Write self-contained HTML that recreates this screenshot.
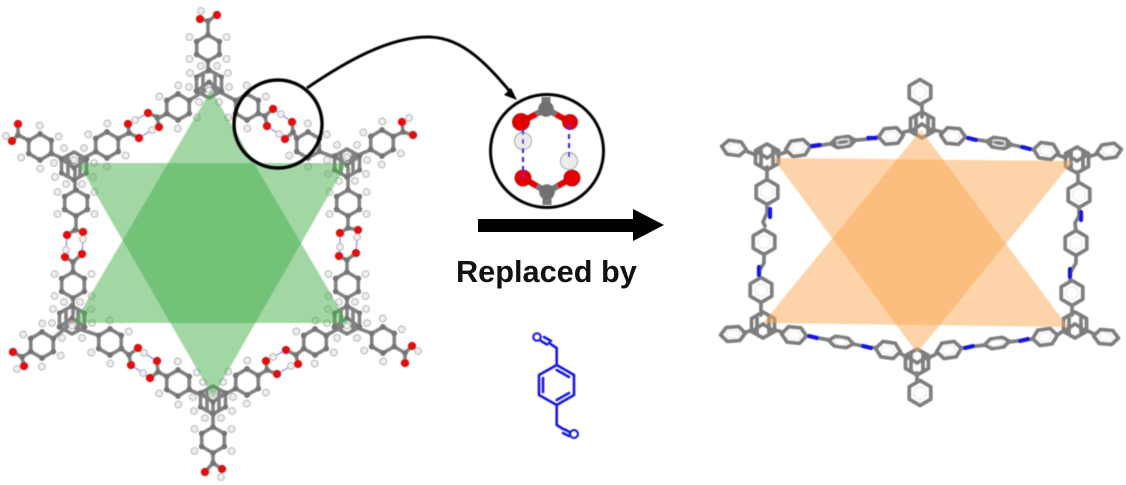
<!DOCTYPE html>
<html><head><meta charset="utf-8"><style>
html,body{margin:0;padding:0;background:#fff;width:1126px;height:485px;overflow:hidden}
svg{display:block}
.b{fill:none;stroke:#828282;stroke-width:3.6;stroke-linecap:round;stroke-linejoin:round}
.c{fill:#757575}
.h{fill:#eeeeee;stroke:#a0a0a0;stroke-width:.8}
.o{fill:#e60c0c;stroke:#b00808;stroke-width:.5}
.hb{fill:none;stroke:#8488ee;stroke-width:1.2}
.s{fill:none;stroke:#7e7e7e;stroke-width:3.7;stroke-linejoin:round;stroke-linecap:round}
.n{fill:none;stroke:#1212dc;stroke-width:4.2;stroke-linecap:round}
.ns{vector-effect:non-scaling-stroke}
.bl{fill:none;stroke:#1818e4;stroke-width:2.6;stroke-linecap:round;stroke-linejoin:round}
</style></head><body>
<svg width="1126" height="485" viewBox="0 0 1126 485" xmlns="http://www.w3.org/2000/svg">
<defs>
<filter id="bl" x="-5%" y="-5%" width="110%" height="110%"><feGaussianBlur stdDeviation="0.5"/></filter>
<g id="r">
<path class="b" d="M13,0L6.5,11.3L-6.5,11.3L-13,0L-6.5,-11.3L6.5,-11.3Z"/>
<circle class="c" cx="13" cy="0" r="2.9"/><circle class="c" cx="6.5" cy="11.3" r="2.9"/><circle class="c" cx="-6.5" cy="11.3" r="2.9"/><circle class="c" cx="-13" cy="0" r="2.9"/><circle class="c" cx="-6.5" cy="-11.3" r="2.9"/><circle class="c" cx="6.5" cy="-11.3" r="2.9"/>
<circle class="h" cx="11" cy="18.5" r="3.4"/><circle class="h" cx="-11" cy="18.5" r="3.4"/><circle class="h" cx="-11" cy="-18.5" r="3.4"/><circle class="h" cx="11" cy="-18.5" r="3.4"/>
</g>
<g id="nd">
<path class="b" d="M0,-14L12.5,-7L12.5,7L0,14L-12.5,7L-12.5,-7Z"/>
<path class="b" d="M0,-2L-12.5,7M0,-2L12.5,7M-6,-10V9M6,-10V9"/>
<circle class="c" cx="0" cy="-14" r="2.9"/><circle class="c" cx="-12.5" cy="7" r="2.9"/><circle class="c" cx="12.5" cy="7" r="2.9"/><circle class="c" cx="0" cy="-2" r="2.6"/><circle class="c" cx="-12.5" cy="-7" r="2.6"/><circle class="c" cx="12.5" cy="-7" r="2.6"/>
<circle class="h" cx="-8" cy="-18" r="3.4"/><circle class="h" cx="8" cy="-18" r="3.4"/><circle class="h" cx="-19" cy="-11" r="3.4"/><circle class="h" cx="19" cy="-11" r="3.4"/><circle class="h" cx="-20" cy="3" r="3.4"/><circle class="h" cx="20" cy="3" r="3.4"/><circle class="h" cx="-10" cy="18" r="3.4"/><circle class="h" cx="10" cy="18" r="3.4"/><circle class="h" cx="0" cy="6" r="3.2"/>
</g>
<g id="p">
<path class="s ns" d="M12.5,0L6.2,10.8L-6.2,10.8L-12.5,0L-6.2,-10.8L6.2,-10.8Z"/>
<circle cx="0" cy="0" r="6.3" fill="none" stroke="#e6e6e6" stroke-width="1.8" class="ns" stroke-dasharray="1.5 1"/>
</g>
<g id="q">
<path class="s" d="M0,-13L11.5,-6.5L11.5,6.5L0,13L-11.5,6.5L-11.5,-6.5ZM0,-1L-11.5,6.5M0,-1L11.5,6.5M-6,-9V9M6,-9V9"/>
</g>
</defs>

<g filter="url(#bl)">
<path class="b" d="M208,21V35M208,61V72M189,100.5L209,88M167,113.5L157,119M129,133L118,138.5M96,151.5L80,160M74,163L51,153.5M29,140.5L18,135M75,170V190M76,216V230M236,100.5L212,88M258,113.5L265,116M293,132L297,138.5M319,151.5L342,160M347,160L371,149.5M393,136.5L403,132M348,168V190M348,216V228M73,262V272M73,298V315M72,323L53,338.5M31,351.5L22,357M76,328L99,335.5M121,348.5L129,355M158,372L167,376.5M189,389.5L208,398M213,405V427M213,453V463M218,398L236,388.5M258,375.5L267,370M296,355L304,348.5M326,335.5L343,326M352,326L372,333.5M394,346.5L405,353M347,260V272M347,298V315"/>
<path class="b" d="M148,113L157,117L159,127M128,124L129,133L139,138M273,109L265,116L267,126M292,122L293,132L285,139M67,235L75,230L83,232M65,257L73,262L82,254M340,233L348,228L358,230M339,256L347,260L356,253M138,348L129,355L131,365M157,361L158,372L150,378M266,361L267,370L277,374M286,350L296,355L298,364M200,19L208,21L217,15M18,124L18,135L12,141M413,135L403,132L402,122M13,352L22,357L24,366M412,346L405,353L405,363M205,472L213,463L222,469"/>
<path class="hb" d="M128,124L135,120L148,113M139,138L152,130L159,127M273,109L281,114L292,122M267,126L279,134L285,139M67,235L66,250L65,257M83,232L83,241L82,254M340,233L340,247L339,256M358,230L357,240L356,253M138,348L144,353L157,361M131,365L143,373L150,378M266,361L273,357L286,350M277,374L291,366L298,364"/>
<use href="#r" transform="translate(208,48) rotate(90)"/>
<use href="#r" transform="translate(178,107) rotate(-30)"/>
<use href="#r" transform="translate(107,145) rotate(-30)"/>
<use href="#r" transform="translate(40,147) rotate(30)"/>
<use href="#r" transform="translate(76,203) rotate(90)"/>
<use href="#r" transform="translate(247,107) rotate(30)"/>
<use href="#r" transform="translate(308,145) rotate(30)"/>
<use href="#r" transform="translate(382,143) rotate(-30)"/>
<use href="#r" transform="translate(348,203) rotate(90)"/>
<use href="#r" transform="translate(73,285) rotate(90)"/>
<use href="#r" transform="translate(42,345) rotate(-30)"/>
<use href="#r" transform="translate(110,342) rotate(30)"/>
<use href="#r" transform="translate(178,383) rotate(30)"/>
<use href="#r" transform="translate(213,440) rotate(90)"/>
<use href="#r" transform="translate(247,382) rotate(-30)"/>
<use href="#r" transform="translate(315,342) rotate(-30)"/>
<use href="#r" transform="translate(383,340) rotate(30)"/>
<use href="#r" transform="translate(347,285) rotate(90)"/>
<use href="#nd" transform="translate(209,84)"/>
<use href="#nd" transform="translate(74,166) rotate(180)"/>
<use href="#nd" transform="translate(347,163) rotate(180)"/>
<use href="#nd" transform="translate(72,320)"/>
<use href="#nd" transform="translate(347,320)"/>
<use href="#nd" transform="translate(213,400) rotate(180)"/>
<g>
<circle class="c" cx="208" cy="21" r="2.9"/><circle class="c" cx="157" cy="117" r="2.9"/><circle class="c" cx="129" cy="133" r="2.9"/><circle class="c" cx="18" cy="135" r="2.9"/><circle class="c" cx="75" cy="230" r="2.9"/><circle class="c" cx="265" cy="116" r="2.9"/><circle class="c" cx="293" cy="132" r="2.9"/><circle class="c" cx="403" cy="132" r="2.9"/><circle class="c" cx="348" cy="228" r="2.9"/><circle class="c" cx="73" cy="262" r="2.9"/><circle class="c" cx="22" cy="357" r="2.9"/><circle class="c" cx="129" cy="355" r="2.9"/><circle class="c" cx="158" cy="372" r="2.9"/><circle class="c" cx="213" cy="463" r="2.9"/><circle class="c" cx="267" cy="370" r="2.9"/><circle class="c" cx="296" cy="355" r="2.9"/><circle class="c" cx="405" cy="353" r="2.9"/><circle class="c" cx="347" cy="260" r="2.9"/>
</g>
<g>
<circle class="h" cx="201" cy="11" r="3.4"/><circle class="h" cx="6" cy="136" r="3.4"/><circle class="h" cx="409" cy="118" r="3.4"/><circle class="h" cx="17" cy="369" r="3.4"/><circle class="h" cx="418" cy="351" r="3.4"/><circle class="h" cx="221" cy="477" r="3.4"/>
<circle class="h" cx="135" cy="120" r="3.4"/><circle class="h" cx="152" cy="130" r="3.4"/><circle class="h" cx="281" cy="114" r="3.4"/><circle class="h" cx="279" cy="134" r="3.4"/><circle class="h" cx="83" cy="239" r="3.4"/><circle class="h" cx="66" cy="250" r="3.4"/><circle class="h" cx="357" cy="237" r="3.4"/><circle class="h" cx="340" cy="247" r="3.4"/><circle class="h" cx="144" cy="353" r="3.4"/><circle class="h" cx="143" cy="373" r="3.4"/><circle class="h" cx="273" cy="357" r="3.4"/><circle class="h" cx="291" cy="366" r="3.4"/>
</g>
<g>
<circle class="o" cx="200" cy="19" r="3.9"/><circle class="o" cx="217" cy="15" r="3.9"/><circle class="o" cx="18" cy="124" r="3.9"/><circle class="o" cx="12" cy="141" r="3.9"/><circle class="o" cx="402" cy="122" r="3.9"/><circle class="o" cx="413" cy="135" r="3.9"/><circle class="o" cx="13" cy="352" r="3.9"/><circle class="o" cx="24" cy="366" r="3.9"/><circle class="o" cx="412" cy="346" r="3.9"/><circle class="o" cx="405" cy="363" r="3.9"/><circle class="o" cx="205" cy="472" r="3.9"/><circle class="o" cx="222" cy="469" r="3.9"/>
<circle class="o" cx="148" cy="113" r="3.9"/><circle class="o" cx="159" cy="127" r="3.9"/><circle class="o" cx="128" cy="124" r="3.9"/><circle class="o" cx="139" cy="138" r="3.9"/>
<circle class="o" cx="273" cy="109" r="3.9"/><circle class="o" cx="267" cy="126" r="3.9"/><circle class="o" cx="292" cy="122" r="3.9"/><circle class="o" cx="285" cy="139" r="3.9"/>
<circle class="o" cx="67" cy="235" r="3.9"/><circle class="o" cx="83" cy="232" r="3.9"/><circle class="o" cx="65" cy="257" r="3.9"/><circle class="o" cx="82" cy="254" r="3.9"/>
<circle class="o" cx="340" cy="233" r="3.9"/><circle class="o" cx="358" cy="230" r="3.9"/><circle class="o" cx="339" cy="256" r="3.9"/><circle class="o" cx="356" cy="253" r="3.9"/>
<circle class="o" cx="138" cy="348" r="3.9"/><circle class="o" cx="131" cy="365" r="3.9"/><circle class="o" cx="157" cy="361" r="3.9"/><circle class="o" cx="150" cy="378" r="3.9"/>
<circle class="o" cx="266" cy="361" r="3.9"/><circle class="o" cx="277" cy="374" r="3.9"/><circle class="o" cx="286" cy="350" r="3.9"/><circle class="o" cx="298" cy="364" r="3.9"/>
</g>
<polygon points="211,90 74,323 348,323" fill="#46b04b" fill-opacity=".5"/>
<polygon points="78,163 347,163 213,397" fill="#46b04b" fill-opacity=".5"/>
</g>

<g filter="url(#bl)">
<circle cx="278" cy="124" r="44" fill="none" stroke="#000" stroke-width="3.4"/>
<path d="M307,88C345,62 390,36 430,37C465,38 490,68 513,95" fill="none" stroke="#000" stroke-width="3"/>
<polygon points="517,100 504,95 511,88" fill="#000"/>
<path d="M546,97V109M547,192V205" stroke="#777" stroke-width="9" fill="none"/>
<path d="M521,122L546,109L570,122M523,178L547,192L572,178" stroke="#e30000" stroke-width="6" fill="none"/>
<path d="M521,122L523,141" stroke="#b8b8b8" stroke-width="4" fill="none"/>
<path d="M536,114L546,109L556,114M537,186L547,192L558,186" stroke="#777" stroke-width="6" fill="none"/>
<circle cx="546" cy="109" r="7.8" fill="#707070"/><circle cx="547" cy="192" r="7.8" fill="#707070"/>
<circle cx="521" cy="122" r="8.5" fill="#e30000" stroke="#a00" stroke-width=".8"/><circle cx="570" cy="122" r="7.5" fill="#e30000" stroke="#a00" stroke-width=".8"/>
<circle cx="523" cy="178" r="8" fill="#e30000" stroke="#a00" stroke-width=".8"/><circle cx="572" cy="178" r="8" fill="#e30000" stroke="#a00" stroke-width=".8"/>
<circle cx="523" cy="141" r="8.5" fill="#ececec" stroke="#999" stroke-width=".9"/><circle cx="569" cy="161" r="8.5" fill="#ececec" stroke="#999" stroke-width=".9"/>
<path d="M523,130V177M569,125V161" stroke="#2222e0" stroke-width="2" stroke-dasharray="5 4" fill="none"/>
<circle cx="547" cy="151" r="56.5" fill="none" stroke="#000" stroke-width="3"/>
</g>

<rect x="478" y="219" width="156" height="13" fill="#000"/>
<polygon points="633,209 664,225 633,241" fill="#000"/>
<text x="456" y="282" font-family="'Liberation Sans',sans-serif" font-weight="700" font-size="30.7" fill="#111">Replaced by</text>

<g filter="url(#bl)">
<path class="bl" d="M556.7,365L574,375V395L556.7,405L539,395V375ZM543,378V392M556.7,370L569,377M556.7,400L569,393M556.7,365V348L549,343M547,344.5L541,341M551,341L544,337M556.7,405V425L564,429.5M563,433L569,436M565,429.5L571,433"/>
<circle cx="537" cy="337" r="3.6" fill="#fff" stroke="#1818e4" stroke-width="2.4"/>
<circle cx="574" cy="434" r="3.8" fill="#fff" stroke="#1818e4" stroke-width="2.4"/>
</g>

<g filter="url(#bl)">
<path class="s" d="M922,105V117M904,132L912,130M934,130L942,132M965,137L972,139L985,141L1013,145L1026,148L1034,150M1058,155L1066,158M1088,157L1097,154M877,137L870,139L857,140L829,144L816,146L810,147M786,152L778,155M756,155L746,151M767,167V180M767,204V213L763,222L765,226M764,254V263L759,271V278M761,302V315M1078,172V183M1079,207V216L1075,223L1076,231M1076,255V263L1070,273V281M1072,305V315M744,333L752,330M775,330L782,332M806,336L813,337L829,340M853,344L867,347L876,348M900,353L907,358M927,359L936,354M962,348L969,347L985,345M1009,342L1024,340L1033,339M1057,335L1065,330M1086,330L1094,334M917,373V381"/>
<use href="#p" transform="translate(920,92) rotate(90)"/>
<use href="#q" transform="translate(922,125)"/>
<use href="#p" transform="translate(891,136) rotate(-5) scale(1,.72)"/>
<use href="#p" transform="translate(843,142) rotate(-8) scale(1,.45)"/>
<use href="#p" transform="translate(798,148) rotate(-8) scale(1,.72)"/>
<use href="#p" transform="translate(734,148) rotate(8) scale(1,.65)"/>
<use href="#q" transform="translate(767,157) rotate(180)"/>
<use href="#p" transform="translate(953,136) rotate(5) scale(1,.72)"/>
<use href="#p" transform="translate(999,143) rotate(8) scale(1,.45)"/>
<use href="#p" transform="translate(1046,151) rotate(8) scale(1,.72)"/>
<use href="#q" transform="translate(1077,160) rotate(180)"/>
<use href="#p" transform="translate(1109,151) rotate(-8) scale(1,.65)"/>
<use href="#p" transform="translate(767,192) rotate(90)"/>
<use href="#p" transform="translate(764,242) rotate(90)"/>
<use href="#p" transform="translate(761,290) rotate(90)"/>
<use href="#p" transform="translate(1079,195) rotate(90)"/>
<use href="#p" transform="translate(1076,243) rotate(90)"/>
<use href="#p" transform="translate(1072,293) rotate(90)"/>
<use href="#q" transform="translate(763,325)"/>
<use href="#p" transform="translate(733,334) rotate(-4) scale(1,.65)"/>
<use href="#p" transform="translate(794,335) rotate(5) scale(1,.72)"/>
<use href="#p" transform="translate(841,342) rotate(8) scale(1,.45)"/>
<use href="#p" transform="translate(888,350) rotate(8) scale(1,.72)"/>
<use href="#q" transform="translate(917,362) rotate(180)"/>
<use href="#p" transform="translate(920,393) rotate(90)"/>
<use href="#p" transform="translate(949,350) rotate(-8) scale(1,.72)"/>
<use href="#p" transform="translate(997,343) rotate(-8) scale(1,.45)"/>
<use href="#p" transform="translate(1045,337) rotate(-8) scale(1,.72)"/>
<use href="#q" transform="translate(1075,325)"/>
<use href="#p" transform="translate(1106,337) rotate(5) scale(1,.65)"/>
<path class="n" d="M868,138L876,138M812,146L820,145M770,209L770,217M759,267L759,275M1081,212L1081,220M1070,269L1070,277M809,336L817,338M863,346L871,348M965,348L973,346M1020,341L1028,339M968,138L976,140M1022,147L1030,149"/>
<polygon points="921,130 763,323 1068,327" fill="#fbaa55" fill-opacity=".5"/>
<polygon points="773,158 1073,161 917,353" fill="#fbaa55" fill-opacity=".5"/>
</g>
</svg>
</body></html>
